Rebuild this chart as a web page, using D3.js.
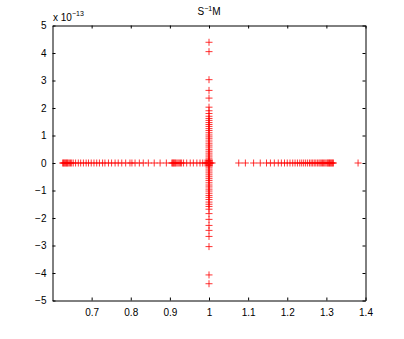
<!DOCTYPE html>
<html><head><meta charset="utf-8">
<script src="https://cdn.jsdelivr.net/npm/d3@7"></script>
<style>body{margin:0;background:#fff}svg{display:block}text{font-family:"Liberation Sans",Arial,sans-serif}</style>
</head><body>
<svg id="c" width="404" height="339"></svg>
<script>
// Eigenvalues: real parts on the real axis (imag = 0)
const realEigs = [0.626,0.628,0.630,0.632,0.634,0.636,0.638,0.640,0.643,0.646,0.649,
  0.653,0.659,0.666,0.672,0.679,0.686,0.692,0.699,0.706,0.713,0.720,0.728,0.734,0.743,0.751,0.760,0.768,0.777,0.787,0.798,
  0.803,0.811,0.822,0.832,0.845,0.860,0.875,0.891,
  0.905,0.907,0.909,0.911,0.913,0.915,0.918,0.921,0.924,0.927,0.930,
  0.935,0.943,0.952,0.960,0.969,0.977,0.984,
  0.990,0.993,0.995,0.997,0.999,1.000,1.001,1.003,1.005,1.008,
  1.076,1.093,1.114,1.131,1.147,1.157,1.167,1.177,1.185,1.193,1.200,1.207,1.214,1.220,1.226,1.232,1.237,1.242,1.247,
  1.252,1.257,1.261,1.265,1.269,1.273,1.277,1.281,1.284,1.287,1.290,1.293,1.296,1.299,1.302,1.304,1.306,1.308,1.310,1.312,1.314,1.316,1.318,
  1.381];
// Eigenvalues clustered at 1 with tiny imaginary parts (units of 1e-13)
const imagEigs = [4.39,4.05,3.03,2.64,2.36,2.03,1.90,1.80,1.70,1.62,1.55,1.47,1.40,1.33,1.25,1.18,1.10,1.02,0.95,0.88,0.80,0.72,0.65,0.58,0.50,0.43,0.36,0.29,0.22,0.15,0.09,0.04,
  -0.04,-0.09,-0.15,-0.22,-0.29,-0.36,-0.43,-0.50,-0.57,-0.64,-0.72,-0.80,-0.87,-0.95,-1.02,-1.10,-1.18,-1.25,-1.33,-1.42,-1.50,-1.58,-1.68,-1.84,-2.05,-2.27,-2.45,-2.67,-3.04,-4.07,-4.39];
const xTicks = [0.7,0.8,0.9,1,1.1,1.2,1.3,1.4];
const yTicks = [-5,-4,-3,-2,-1,0,1,2,3,4,5];

const points = realEigs.map(r => ({re: r, im: 0})).concat(imagEigs.map(v => ({re: 1, im: v})));

const svg = d3.select("#c");
const L = 52.5, R = 365.5, T = 25.5, B = 300.5;
const x = d3.scaleLinear().domain([0.6, 1.4]).range([L, R]);
const y = d3.scaleLinear().domain([-5, 5]).range([B, T]);

const fs = 10;
// bottom axis
const gx = svg.append("g").attr("transform", `translate(0,${B})`)
  .call(d3.axisBottom(x).tickValues(xTicks).tickSizeInner(-3).tickSizeOuter(0).tickPadding(8).tickFormat(d3.format("")));
const gxt = svg.append("g").attr("transform", `translate(0,${T})`)
  .call(d3.axisTop(x).tickValues(xTicks).tickSizeInner(-3).tickSizeOuter(0).tickFormat(""));
const gy = svg.append("g").attr("transform", `translate(${L},0)`)
  .call(d3.axisLeft(y).tickValues(yTicks).tickSizeInner(-3).tickSizeOuter(0).tickPadding(6).tickFormat(d => d < 0 ? "\u2212" + Math.abs(d) : d));
const gyr = svg.append("g").attr("transform", `translate(${R},0)`)
  .call(d3.axisRight(y).tickValues(yTicks).tickSizeInner(-3).tickSizeOuter(0).tickFormat(""));
[gx, gxt, gy, gyr].forEach(g => {
  g.selectAll("path.domain").attr("stroke", "#000").attr("stroke-width", 1);
  g.selectAll(".tick line").attr("stroke", "#000");
  g.selectAll("text").attr("font-size", fs).attr("fill", "#000").style("font-family", '"Liberation Sans",Arial,sans-serif');
});

// markers
const s = 3.5;
const mk = svg.append("g").attr("stroke", "#ff0000").attr("stroke-width", 0.8).attr("fill", "none");
mk.selectAll("path").data(points).join("path")
  .attr("d", d => {
    const cx = x(d.re), cy = y(d.im);
    return `M${cx - s},${cy}H${cx + s}M${cx},${cy - s}V${cy + s}`;
  });

// exponent label
const ex = svg.append("text").attr("x", 53).attr("y", 21).attr("font-size", fs);
ex.append("tspan").text("x 10");
ex.append("tspan").attr("dy", -5).attr("font-size", 7).text("\u221213");

// title
const tt = svg.append("text").attr("x", 209).attr("y", 15).attr("text-anchor", "middle").attr("font-size", fs);
tt.append("tspan").text("S");
tt.append("tspan").attr("dy", -4).attr("font-size", 7).text("\u22121");
tt.append("tspan").attr("dy", 4).text("M");
</script>
</body></html>
